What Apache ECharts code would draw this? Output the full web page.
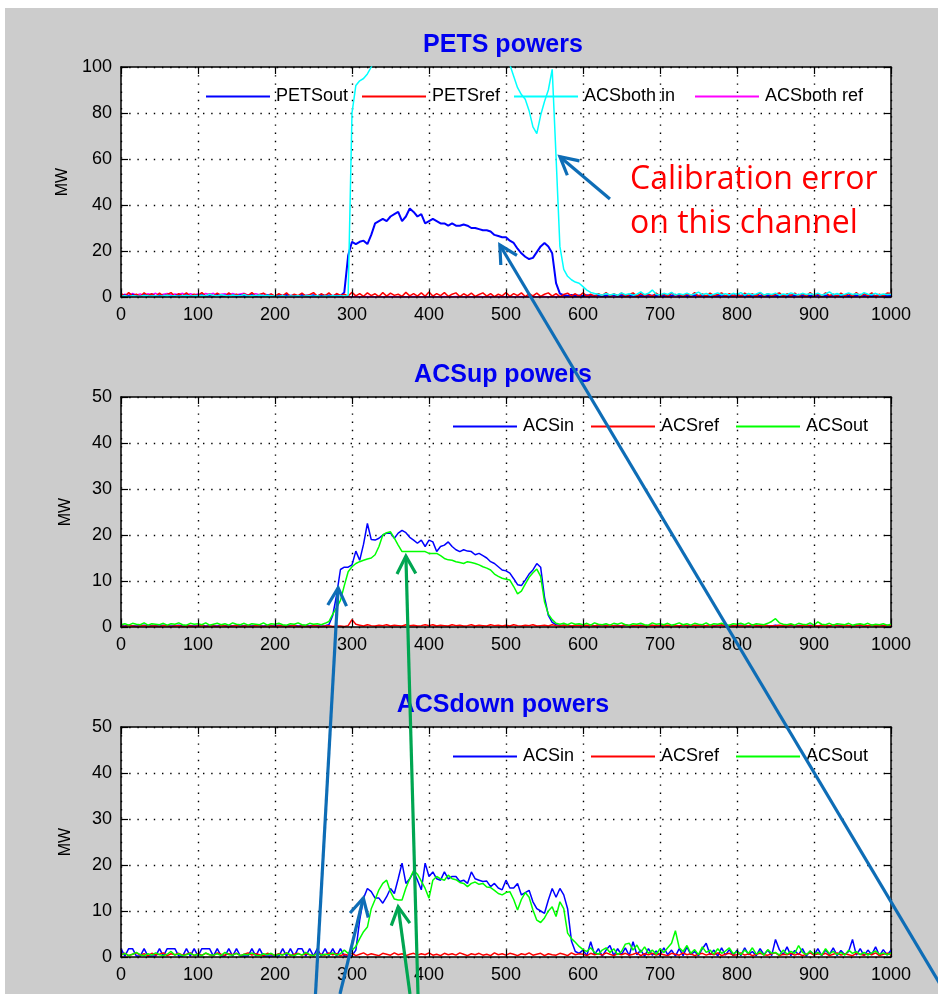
<!DOCTYPE html>
<html><head><meta charset="utf-8">
<script src="https://cdn.jsdelivr.net/npm/echarts@6/dist/echarts.min.js"></script>
<style>html,body{margin:0;padding:0;background:#fff}#main{width:938px;height:994px;background:#cccccc;box-shadow:inset 5px 8px 0 0 #fff}</style>
</head><body><div id="main"></div><script>
// ---- sample spacing along x (samples 0..1000, every 5th sample)
const STEP = 5;

// ---- PETS powers (MW)
const petsOut = [
0.5,0.8,0.4,1.0,0.6,0.3,0.9,0.5,1.1,0.4,0.7,0.5,0.9,0.3,0.6,1.0,0.5,0.8,0.4,0.7,
0.6,0.9,0.4,0.8,0.5,1.0,0.3,0.7,0.6,0.9,0.4,0.8,0.5,0.6,1.0,0.4,0.7,0.5,0.9,0.6,
0.4,0.8,0.6,1.0,0.5,0.7,0.3,0.9,0.6,0.5,0.8,0.4,1.0,0.6,0.7,0.5,0.9,0.4,2.0,18,
24,23,24,24.5,23,27,32,33,34,33,35,36,37,33,35,38.5,37,35,36,32,
33,34,33,32,32,31,32,31,31,31.5,31,30,30,29.5,29,29,28.5,27,26.5,26,
26,24.5,23.5,21,19,17.5,16.5,17,19.5,22,23.5,22,19,6,1.5,0.8,0.6,0.9,0.5,0.7,
0.4,0.8,0.6,0.5,0.9,0.4,0.7,0.6,1.0,0.5,0.8,0.4,0.6,0.9,0.5,0.7,0.4,0.8,0.6,0.5,
0.9,0.4,0.7,0.6,1.0,0.5,0.8,0.4,0.6,0.9,0.5,0.7,0.4,0.8,0.6,0.5,0.9,0.4,0.7,0.6,
1.0,0.5,0.8,0.4,0.6,0.9,0.5,0.7,0.4,0.8,0.6,0.5,0.9,0.4,0.7,0.6,1.0,0.5,0.8,0.4,
0.6,0.9,0.5,0.7,0.4,0.8,0.6,0.5,0.9,0.4,0.7,0.6,1.0,0.5,0.8,0.4,0.6,0.9,0.5,0.7,
0.5];
const petsRef = [
1.6,0.3,1.9,0.5,1.2,0.2,1.8,0.6,1.4,0.3,1.7,0.4,1.1,1.9,0.2,1.5,0.5,1.8,0.3,1.2,
0.6,1.9,0.2,1.4,0.4,1.7,0.7,0.3,1.8,0.5,1.2,0.2,1.5,0.6,1.9,0.3,1.1,1.7,0.4,1.4,
0.3,1.5,0.5,1.8,0.2,1.2,0.6,1.7,0.4,1.0,1.9,0.3,1.4,0.5,1.8,0.2,1.5,0.7,1.2,0.4,
2.0,0.5,1.5,0.3,1.8,0.6,1.4,0.2,1.9,0.4,1.7,0.7,1.2,0.3,2.0,0.5,1.5,0.4,1.8,0.3,
2.2,0.4,1.5,0.6,1.9,0.3,1.2,1.8,0.2,1.4,0.5,1.7,0.3,1.1,1.8,0.4,1.5,0.2,1.2,0.5,
1.9,0.3,1.5,0.6,1.8,0.2,1.4,0.5,1.7,0.3,1.2,1.8,0.4,1.5,0.2,1.1,1.7,0.5,1.4,0.3,
1.8,0.4,1.2,0.2,1.5,0.6,1.9,0.3,1.4,0.5,1.7,0.2,1.1,1.8,0.4,1.5,0.6,1.2,0.3,1.7,
0.5,1.4,0.2,1.8,0.6,1.2,0.3,1.5,0.5,1.9,0.2,1.4,0.4,1.7,0.6,1.1,1.8,0.3,1.5,0.5,
1.2,0.2,1.7,0.6,1.4,0.4,1.9,0.3,1.5,0.5,1.2,1.8,0.2,1.4,0.6,1.7,0.4,1.5,0.3,1.9,
0.5,1.4,0.3,1.8,0.6,1.2,0.2,1.7,0.5,1.5,0.4,1.9,0.3,1.4,0.6,1.8,0.2,1.2,0.5,1.7,
1.5];
const acsBothIn = [
0.3,0.5,0.2,0.6,0.4,0.3,0.7,0.5,0.4,0.6,0.3,0.5,0.8,0.4,0.6,0.3,0.5,0.7,0.4,0.6,
0.5,0.8,0.4,1.2,0.6,0.5,1.0,0.7,0.4,0.9,0.6,0.5,1.1,0.4,0.7,0.6,0.9,0.5,0.8,0.6,
0.4,0.3,0.5,0.2,0.4,0.3,0.5,0.2,0.4,0.6,0.3,0.5,0.2,0.4,0.3,0.5,0.4,0.6,0.3,0.8,
80,92,94,95,97,100,104,104,104,104,104,104,104,104,104,104,104,104,104,104,
104,104,104,104,104,104,104,104,104,104,104,104,104,104,104,104,104,104,104,104,
104,101,96,91,88,86,81,74,71,79,85,90,99,61,22,12,9,7.5,6.5,6,
4.5,3,2,1.5,1.2,0.8,1.5,0.9,1.3,0.7,1.8,1.0,1.4,0.8,1.2,2.2,1.0,1.6,3.0,1.2,
0.9,1.6,1.1,2.0,0.8,1.4,1.0,1.7,0.9,1.3,2.1,1.0,1.5,0.8,1.2,1.8,1.0,1.4,0.9,1.6,
1.1,1.9,0.8,1.5,1.0,1.3,2.0,0.9,1.4,1.1,1.7,0.8,1.3,1.0,1.8,1.2,0.9,1.6,1.1,1.4,
1.0,1.7,0.8,1.3,2.2,1.0,1.5,0.9,1.2,1.8,1.1,1.4,0.8,1.9,1.2,1.0,1.6,0.9,1.3,1.1,
1.2];
const acsBothRef = [
0.6,1.2,0.8,1.5,0.9,1.3,0.7,1.4,1.0,1.6,0.8,1.2,1.5,0.9,1.3,1.1,1.6,0.8,1.4,1.0,
1.3,0.9,1.5,1.1,1.6,0.8,1.2,1.4,0.9,1.5,1.0,1.3,1.6,0.8,1.2,1.4,1.0,1.5,0.9,1.2,
0.3,0.1,0.2,0.1,0.1,0.2,0.1,0.1,0.2,0.1,0.1,0.2,0.1,0.1,0.2,0.1,0.1,0.2,0.1,0.1,
0.1,0.2,0.1,0.1,0.2,0.1,0.1,0.2,0.1,0.1,0.2,0.1,0.1,0.2,0.1,0.1,0.2,0.1,0.1,0.2,
0.1,0.2,0.1,0.1,0.2,0.1,0.1,0.2,0.1,0.1,0.2,0.1,0.1,0.2,0.1,0.1,0.2,0.1,0.1,0.2,
0.1,0.2,0.1,0.1,0.2,0.1,0.1,0.2,0.1,0.1,0.2,0.1,0.1,0.2,0.1,0.1,0.2,0.1,0.1,0.2,
0.1,0.2,0.1,0.1,0.2,0.1,0.1,0.2,0.1,0.1,0.2,0.1,0.1,0.2,0.1,0.1,0.2,0.1,0.1,0.2,
0.1,0.2,0.1,0.1,0.2,0.1,0.1,0.2,0.1,0.1,0.2,0.1,0.1,0.2,0.1,0.1,0.2,0.1,0.1,0.2,
0.1,0.2,0.1,0.1,0.2,0.1,0.1,0.2,0.1,0.1,0.2,0.1,0.1,0.2,0.1,0.1,0.2,0.1,0.1,0.2,
0.1,0.2,0.1,0.1,0.2,0.1,0.1,0.2,0.1,0.1,0.2,0.1,0.1,0.2,0.1,0.1,0.2,0.1,0.1,0.2,
0.1];

// ---- ACSup powers (MW)
const upIn = [
0.3,0.2,0.4,0.3,0.2,0.3,0.4,0.2,0.3,0.3,0.2,0.4,0.3,0.2,0.3,0.4,0.2,0.3,0.3,0.2,
0.3,0.4,0.2,0.3,0.3,0.2,0.4,0.3,0.2,0.3,0.4,0.2,0.3,0.3,0.2,0.4,0.3,0.2,0.3,0.3,
0.2,0.4,0.3,0.2,0.3,0.4,0.2,0.3,0.3,0.2,0.4,0.3,0.2,0.3,0.5,2.5,7,12.5,13,13,
13.5,16.5,14.5,18,22.5,19,18.9,19.3,20,20.4,20.4,19.3,20.4,21,20.5,19.5,18.9,18.2,18.9,17.5,
18.9,18.5,16.4,17.5,17.8,18.5,17.5,16.8,16.4,16.8,16.5,16.4,15.7,16,15.5,15,14.2,13.8,13.1,12.4,
12.2,11.7,10.5,9.2,9,10.2,11.5,12.4,13.8,13,6.5,2.5,1,0.5,0.3,0.4,0.3,0.2,0.3,0.4,
0.3,0.2,0.4,0.3,0.2,0.3,0.4,0.2,0.3,0.3,0.2,0.4,0.3,0.2,0.3,0.4,0.2,0.3,0.3,0.2,
0.3,0.4,0.2,0.3,0.3,0.2,0.4,0.3,0.2,0.3,0.4,0.2,0.3,0.3,0.2,0.4,0.3,0.2,0.3,0.3,
0.2,0.4,0.3,0.2,0.3,0.4,0.2,0.3,0.3,0.2,0.4,0.3,0.2,0.3,0.4,0.2,0.3,0.3,0.2,0.4,
0.3,0.2,0.4,0.3,0.2,0.3,0.4,0.2,0.3,0.3,0.2,0.4,0.3,0.2,0.3,0.4,0.2,0.3,0.3,0.2,
0.3];
const upRef = [
0.2,0.1,0.3,0.2,0.1,0.2,0.3,0.1,0.2,0.2,0.1,0.3,0.2,0.1,0.2,0.3,0.1,0.2,0.2,0.1,
0.2,0.3,0.1,0.2,0.2,0.1,0.3,0.2,0.1,0.2,0.3,0.1,0.2,0.2,0.1,0.3,0.2,0.1,0.2,0.2,
0.1,0.3,0.2,0.1,0.2,0.3,0.1,0.2,0.2,0.1,0.3,0.2,0.1,0.2,0.3,0.1,0.2,0.2,0.1,0.3,
1.6,0.6,0.4,0.2,0.5,0.3,0.2,0.4,0.3,0.5,0.2,0.4,0.3,0.2,0.5,0.3,0.4,0.2,0.3,0.5,
0.3,0.5,0.2,0.4,0.3,0.2,0.5,0.3,0.4,0.2,0.3,0.5,0.2,0.4,0.3,0.2,0.5,0.3,0.4,0.2,
0.4,0.2,0.5,0.3,0.2,0.4,0.3,0.5,0.2,0.3,0.4,0.2,0.5,0.3,0.2,0.4,0.3,0.2,0.4,0.3,
0.2,0.4,0.3,0.2,0.5,0.3,0.2,0.4,0.3,0.2,0.3,0.5,0.2,0.3,0.4,0.2,0.3,0.2,0.4,0.3,
0.2,0.3,0.4,0.2,0.3,0.2,0.5,0.3,0.2,0.4,0.3,0.2,0.3,0.4,0.2,0.3,0.5,0.2,0.3,0.2,
0.4,0.3,0.2,0.3,0.5,0.2,0.3,0.4,0.2,0.3,0.2,0.4,0.3,0.2,0.5,0.3,0.2,0.3,0.4,0.2,
0.3,0.2,0.4,0.3,0.2,0.5,0.3,0.2,0.4,0.3,0.2,0.3,0.5,0.2,0.3,0.4,0.2,0.3,0.2,0.4,
0.3];
const upOut = [
0.5,0.7,0.4,0.8,0.6,0.5,0.9,0.4,0.7,0.6,0.5,0.8,0.4,0.7,0.6,0.9,0.5,0.4,0.8,0.6,
0.7,0.5,0.9,0.4,0.6,0.8,0.5,0.7,0.4,0.9,0.6,0.5,0.8,0.4,0.7,0.6,0.5,0.9,0.4,0.7,
0.6,0.8,0.5,0.4,0.7,0.6,0.9,0.5,0.4,0.8,0.6,0.7,0.5,0.8,1.2,2.8,4.2,5.8,9,12,
13.1,13.8,14.2,14.5,14.8,15,15.7,17.5,20,20.5,20.7,19.3,17.8,16.4,16.4,16.4,16.4,16.4,16.4,16.4,
16,16,16,15.5,14.9,14.6,14.5,14.2,14,13.8,14.2,14,13.8,13.5,13.1,12.8,12.4,11.5,11,10.6,
10.4,10.2,8.8,7.2,7.8,9.3,10.8,11.8,12.6,11,5.5,2.8,1.6,0.8,0.6,0.8,0.5,0.9,0.6,0.7,
0.5,0.8,0.4,0.9,0.6,0.5,0.7,0.4,0.8,0.6,0.9,0.5,0.4,0.7,0.6,0.8,0.5,0.4,0.9,0.6,
0.7,0.5,0.8,0.4,0.6,0.9,0.5,0.7,0.4,0.8,0.6,0.5,0.9,0.4,0.7,0.6,0.8,0.5,0.4,0.7,
0.6,0.8,0.5,0.9,0.4,0.7,0.6,0.5,0.8,1.2,1.8,0.9,0.6,0.5,0.7,0.4,0.8,0.6,0.5,0.9,
0.4,1.1,0.6,0.5,0.8,0.4,0.7,0.6,0.5,0.8,0.4,0.6,0.7,0.5,0.8,0.4,0.6,0.5,0.7,0.4,
0.6];

// ---- ACSdown powers (MW)
const dnIn = [
1.8,0.2,1.8,1.8,0.2,0.2,1.8,0.2,0.2,0.2,1.8,0.2,1.8,1.8,1.8,0.2,0.2,1.8,0.2,1.8,
0.2,1.8,1.8,1.8,0.2,1.8,0.2,0.2,1.8,0.2,1.8,0.2,0.2,0.2,1.8,0.2,1.8,0.2,0.2,0.2,
0.2,0.2,1.8,0.2,1.8,0.2,1.8,1.8,0.2,1.8,0.2,1.8,0.2,1.8,0.2,1.8,0.2,1.8,0.2,0.2,
0.3,1.5,8,12.8,14.9,14.2,12.8,12.8,11.7,13.1,14.9,13.8,17,20.4,16,17,18.5,16.7,14.6,20.4,
17.5,18.5,17,16.7,18.5,17,17.5,17.5,16.4,16.7,16,18.5,17,16.7,16.4,16.5,15.3,16,15,14.6,
16.7,15,15,16,13.5,14,14.5,12,10.5,10,9.5,12.4,14.9,13,14.9,13.5,10.5,3.5,1.2,0.8,
1.5,0.3,3.3,0.5,1.8,0.2,1.5,2.5,0.3,1.8,0.5,2.0,0.3,3.3,0.5,1.5,0.2,1.8,0.4,1.3,
0.3,2.0,0.5,1.5,0.2,1.8,0.3,2.2,0.5,1.2,0.3,1.8,3.0,0.5,1.5,0.2,2.0,0.4,1.6,0.3,
1.5,0.3,2.0,0.5,1.2,0.3,1.8,0.5,1.5,0.3,3.8,1.6,0.5,2.2,0.3,1.4,0.5,1.8,0.2,1.3,
0.4,1.8,0.3,1.5,0.5,2.0,0.3,1.4,0.5,1.2,3.8,0.4,1.8,0.3,1.5,0.5,2.2,0.3,1.6,0.4,
1.5];
const dnRef = [
0.5,0.8,0.3,0.6,0.9,0.4,0.7,0.3,0.8,0.5,0.6,0.9,0.3,0.7,0.5,0.8,0.4,0.6,0.9,0.3,
0.7,0.4,0.8,0.5,0.3,0.9,0.6,0.4,0.7,0.5,0.8,0.3,0.6,0.9,0.4,0.7,0.5,0.3,0.8,0.6,
0.4,0.7,0.5,0.9,0.3,0.6,0.8,0.4,0.7,0.5,0.3,0.8,0.6,0.4,0.9,0.5,0.7,0.3,0.6,0.4,
0.8,0.3,0.6,0.9,0.4,0.7,0.5,0.3,0.8,0.6,0.4,0.9,0.5,0.7,0.3,0.6,0.8,0.4,0.7,0.5,
0.9,0.4,0.6,0.3,0.8,0.5,0.7,0.4,0.9,0.6,0.3,0.7,0.5,0.8,0.4,0.6,0.3,0.9,0.5,0.7,
0.4,0.8,0.6,0.3,0.7,0.5,0.9,0.4,0.6,0.8,0.3,0.7,0.5,0.4,0.8,0.6,0.3,0.9,0.5,0.7,
0.6,0.3,0.8,0.5,0.7,0.4,0.9,0.6,0.3,0.7,0.5,0.8,0.4,0.6,0.9,0.3,0.7,0.5,0.8,0.4,
0.7,0.5,0.3,0.8,0.6,0.4,0.9,0.5,0.7,0.3,0.6,0.8,0.4,0.7,0.5,0.9,0.3,0.6,0.8,0.4,
0.5,0.9,0.4,0.7,0.3,0.6,0.8,0.5,0.4,0.7,0.9,0.3,0.6,0.5,0.8,0.4,0.7,0.3,0.6,0.9,
0.4,0.7,0.5,0.8,0.3,0.6,0.9,0.4,0.7,0.5,0.3,0.8,0.6,0.4,0.7,0.5,0.9,0.3,0.6,0.8,
0.5];
const dnOut = [
0.4,0.8,0.3,0.6,1.0,0.5,0.3,0.7,0.4,0.9,0.5,0.3,0.6,1.2,0.4,0.7,0.3,0.5,0.8,0.4,
0.6,0.3,0.9,0.5,0.4,0.7,0.3,1.0,0.5,0.4,0.8,0.3,0.6,0.5,0.9,0.4,0.3,0.7,0.5,0.8,
0.3,0.6,0.4,0.9,0.5,0.3,0.7,0.4,1.0,0.5,0.3,0.8,0.4,0.6,0.5,0.9,0.4,0.7,1.5,0.8,
1.5,2.3,4,5.5,6.5,10.5,12.5,14.6,16,16.7,14.2,12.6,12.4,12.4,15,17,18.8,18,16.5,14.9,
12.8,16.7,17.5,17,16.7,17.8,17,16.8,16.2,16,15.3,16,16.3,15.8,16,15.2,15.1,14.5,13.8,13.5,
14,14.2,12.5,10.2,12.5,14,13,10.2,8,7.5,8.5,10,10.9,8.8,12,10.5,5.2,4,3.2,2.3,
1.6,1.2,2.0,1.0,0.6,1.5,2.0,1.0,1.8,0.5,1.2,2.8,3.0,1.5,2.6,1.0,2.2,0.8,1.5,0.6,
1.8,1.0,2.0,3.0,5.7,2.0,1.2,2.5,0.8,1.6,0.5,2.2,1.0,1.5,0.6,1.8,0.8,1.3,2.0,0.7,
1.2,0.5,1.5,0.8,2.0,0.6,1.2,0.4,1.6,0.8,1.0,0.4,1.5,0.6,1.2,0.8,2.5,1.0,0.5,1.3,
0.6,1.0,0.4,1.8,0.7,1.2,0.5,1.0,0.4,1.5,0.8,1.2,0.5,1.0,0.4,0.9,1.3,0.6,0.9,0.5,
0.8];

// ---- panel titles, axis ranges
const PANEL_TITLES = ['PETS powers', 'ACSup powers', 'ACSdown powers'];
const Y_MAX = [100, 50, 50];
const Y_INTERVAL = [20, 10, 10];

// ---- layout / style (not data)
const FONT = '"Liberation Sans", Arial, Helvetica, sans-serif';
const GRID = { left: 121, width: 770, height: 230, tops: [67, 397, 727] };
const COLORS = { blue: '#0000ff', red: '#ff0000', cyan: '#00ffff', magenta: '#ff00ff', green: '#00ff00' };
const ANN_BLUE = '#0e6db6', ANN_GREEN = '#00a651';

const sampleX = petsOut.map((_, i) => i * STEP);
const pairs = vals => vals.map((v, i) => [sampleX[i], v]);

const seriesDefs = [
  { id: 'petsOut', g: 0, label: 'PETSout', data: petsOut, color: COLORS.blue, w: 2, lx: 206 },
  { id: 'petsRef', g: 0, label: 'PETSref', data: petsRef, color: COLORS.red, w: 1.5, lx: 362 },
  { id: 'acsBothIn', g: 0, label: 'ACSboth in', data: acsBothIn, color: COLORS.cyan, w: 1.5, lx: 514 },
  { id: 'acsBothRef', g: 0, label: 'ACSboth ref', data: acsBothRef, color: COLORS.magenta, w: 1.5, lx: 695, z: 1 },
  { id: 'upIn', g: 1, label: 'ACSin', data: upIn, color: COLORS.blue, w: 1.5, lx: 453 },
  { id: 'upRef', g: 1, label: 'ACSref', data: upRef, color: COLORS.red, w: 1.5, lx: 591 },
  { id: 'upOut', g: 1, label: 'ACSout', data: upOut, color: COLORS.green, w: 1.5, lx: 736 },
  { id: 'dnIn', g: 2, label: 'ACSin', data: dnIn, color: COLORS.blue, w: 1.5, lx: 453 },
  { id: 'dnRef', g: 2, label: 'ACSref', data: dnRef, color: COLORS.red, w: 1.5, lx: 591 },
  { id: 'dnOut', g: 2, label: 'ACSout', data: dnOut, color: COLORS.green, w: 1.5, lx: 736 }
];

const grids = [], xAxes = [], yAxes = [];
const axisLine = { show: true, onZero: false, lineStyle: { color: '#000', width: 1.5 } };
const tick = { show: true, inside: true, length: 7, lineStyle: { color: '#000', width: 1.2 } };
const dotted = { show: true, lineStyle: { color: '#000', width: 1.4, type: [1.4, 6.8] } };
const plain = v => String(v);
GRID.tops.forEach((top, g) => {
  grids.push({ left: GRID.left, top: top, width: GRID.width, height: GRID.height, show: true,
    backgroundColor: '#fff', borderWidth: 0, containLabel: false, outerBoundsMode: 'none' });
  xAxes.push({ gridIndex: g, type: 'value', min: 0, max: 1000, interval: 100, position: 'bottom', z: 5,
    axisLine, axisTick: tick, splitLine: { show: false },
    axisLabel: { color: '#000', fontSize: 18, fontFamily: FONT, margin: 9, formatter: plain } });
  xAxes.push({ gridIndex: g, type: 'value', min: 0, max: 1000, interval: 100, position: 'top', z: 0,
    axisLine, axisTick: tick, axisLabel: { show: false }, splitLine: dotted });
  yAxes.push({ gridIndex: g, type: 'value', min: 0, max: Y_MAX[g], interval: Y_INTERVAL[g], position: 'left', z: 5,
    axisLine, axisTick: tick, splitLine: { show: false },
    axisLabel: { color: '#000', fontSize: 18, fontFamily: FONT, margin: 9, formatter: plain },
    name: 'MW', nameLocation: 'middle', nameGap: 47, nameRotate: 90,
    nameTextStyle: { color: '#000', fontSize: 16, fontFamily: FONT } });
  yAxes.push({ gridIndex: g, type: 'value', min: 0, max: Y_MAX[g], interval: Y_INTERVAL[g], position: 'right', z: 0,
    axisLine, axisTick: tick, axisLabel: { show: false }, splitLine: dotted });
});

const series = seriesDefs.map(d => ({
  id: d.id, name: d.id, type: 'line', xAxisIndex: d.g * 2, yAxisIndex: d.g * 2,
  data: pairs(d.data), showSymbol: false, symbol: 'none', animation: false, z: d.z || 2,
  lineStyle: { color: d.color, width: d.w }, itemStyle: { color: d.color }, clip: true
}));

const LEGEND_CY = GRID.tops.map(t => t + 27.5);
const legends = seriesDefs.map(d => ({
  left: d.lx, top: LEGEND_CY[d.g] - 7, padding: 0, itemWidth: 64, itemHeight: 2, icon: 'rect',
  selectedMode: false, data: [d.id], formatter: () => d.label,
  textStyle: { color: '#000', fontSize: 18, fontFamily: FONT, padding: [0, 0, 0, 1] }
}));

const chart = echarts.init(document.getElementById('main'), null, { renderer: 'canvas' });
chart.setOption({
  animation: false, backgroundColor: 'transparent',
  grid: grids, xAxis: xAxes, yAxis: yAxes, legend: legends, series: series
});

// ---- annotations (arrow tips anchored in the data space of each panel)
const annotationArrows = [
  { color: ANN_BLUE, tipSeries: 0, tip: [570, 61], tailSeries: 0, tail: [635, 42.6] },
  { color: ANN_BLUE, tipSeries: 0, tip: [492, 22.6], tailSeries: 7, tail: [1071.4, -8.04] },
  { color: ANN_BLUE, tipSeries: 4, tip: [282, 8.5], tailSeries: 7, tail: [252.6, -8.04] },
  { color: ANN_GREEN, tipSeries: 4, tip: [370, 15.4], tailSeries: 7, tail: [385.7, -8.04] },
  { color: ANN_BLUE, tipSeries: 7, tip: [314.7, 12.8], tailSeries: 7, tail: [284.4, -8.04] },
  { color: ANN_GREEN, tipSeries: 7, tip: [360, 10.9], tailSeries: 7, tail: [375.3, -8.04] }
];
const annotationText = [
  { series: 0, at: [661, 51], text: 'Calibration error' },
  { series: 0, at: [661, 32], text: 'on this channel' }
];

const graphics = [];
PANEL_TITLES.forEach((t, g) => {
  graphics.push({ type: 'text', x: GRID.left + GRID.width / 2 - 3, y: GRID.tops[g] - 22, z: 50,
    style: { text: t, fill: '#0000f0', font: 'bold 25px ' + FONT,
      align: 'center', textAlign: 'center', verticalAlign: 'middle', textVerticalAlign: 'middle' } });
});
const HEAD = 20, ANG = 28 * Math.PI / 180;
annotationArrows.forEach(a => {
  const T = chart.convertToPixel({ seriesIndex: a.tipSeries }, a.tip);
  const A = chart.convertToPixel({ seriesIndex: a.tailSeries }, a.tail);
  const dx = A[0] - T[0], dy = A[1] - T[1], L = Math.hypot(dx, dy);
  const ux = dx / L, uy = dy / L;
  const rot = s => [T[0] + HEAD * (ux * Math.cos(s) - uy * Math.sin(s)), T[1] + HEAD * (ux * Math.sin(s) + uy * Math.cos(s))];
  graphics.push({ type: 'line', z: 100, shape: { x1: A[0], y1: A[1], x2: T[0], y2: T[1] },
    style: { stroke: a.color, lineWidth: 3.2 } });
  graphics.push({ type: 'polyline', z: 100, shape: { points: [rot(ANG), T, rot(-ANG)] },
    style: { stroke: a.color, lineWidth: 3.2, fill: null, lineJoin: 'miter' } });
});
annotationText.forEach(t => {
  const p = chart.convertToPixel({ seriesIndex: t.series }, t.at);
  graphics.push({ type: 'text', x: p[0], y: p[1], z: 60,
    style: { text: t.text, fill: '#ff0000', font: '32px "Open Sans", "Noto Sans", sans-serif',
      align: 'left', textAlign: 'left', verticalAlign: 'middle', textVerticalAlign: 'middle' } });
});
chart.setOption({ graphic: { elements: graphics } });
</script></body></html>
